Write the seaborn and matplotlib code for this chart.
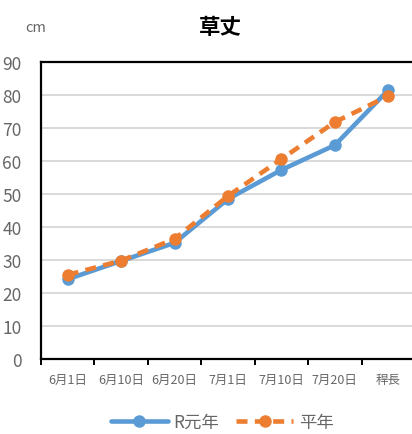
import matplotlib
matplotlib.use("Agg")
import matplotlib.pyplot as plt
from matplotlib.ticker import FixedLocator
import seaborn as sns
import pandas as pd

# Growth stages and plant height (cm)
stages = ["6月1日", "6月10日", "6月20日", "7月1日", "7月10日", "7月20日", "稈長"]
height_r1 = [24.2, 29.7, 35.2, 48.5, 57.3, 64.8, 81.5]
height_normal = [25.5, 29.8, 36.4, 49.4, 60.6, 71.8, 79.7]
series_names = ["R元年", "平年"]
y_ticks = [0, 10, 20, 30, 40, 50, 60, 70, 80, 90]

sns.set_theme(style="white")
plt.rcParams["font.family"] = ["Noto Sans CJK JP", "DejaVu Sans"]

df = pd.DataFrame({
    "stage": stages * 2,
    "height": height_r1 + height_normal,
    "series": [series_names[0]] * len(stages) + [series_names[1]] * len(stages),
})

fig = plt.figure(figsize=(4.12, 4.35), dpi=100)
W, H = 412, 435
left, right, top, bottom = 41, 415, 63, 360
ax = fig.add_axes([left / W, 1 - bottom / H, (right - left) / W, (bottom - top) / H])

blue = "#5B9BD5"
orange = "#ED7D31"

sns.lineplot(data=df[df["series"] == series_names[0]], x="stage", y="height",
             ax=ax, color=blue, lw=3.3, marker="o", markersize=9,
             markeredgewidth=0, label=series_names[0], zorder=3)
sns.lineplot(data=df[df["series"] == series_names[1]], x="stage", y="height",
             ax=ax, color=orange, lw=3.3, marker="o", markersize=9,
             markeredgewidth=0, dashes=(2.4, 1.6), label=series_names[1], zorder=4)

ax.set_xlim(-0.5, len(stages) - 0.5)
ax.set_ylim(0, 90)
ax.set_yticks(y_ticks)
ax.yaxis.grid(True, color="#D9D9D9", lw=1.4)
ax.set_axisbelow(True)

ax.set_xlabel("")
ax.set_ylabel("")

for side in ["left", "top", "bottom"]:
    ax.spines[side].set_color("black")
    ax.spines[side].set_linewidth(1.6)
ax.spines["right"].set_visible(False)

ax.tick_params(axis="y", length=0, pad=14, labelsize=12.5, labelcolor="#666666")
ax.tick_params(axis="x", which="major", length=0, pad=10, labelsize=9, labelcolor="#666666")
ax.xaxis.set_minor_locator(FixedLocator([i - 0.5 for i in range(len(stages) + 1)]))
ax.tick_params(axis="x", which="minor", bottom=True, length=4, width=1.4, color="black", direction="out")

fig.text(220 / W, 1 - 28 / H, "草丈", ha="center", va="center", fontsize=15.5,
         fontweight="bold", color="black")
fig.text(36 / W, 1 - 28 / H, "cm", ha="center", va="center", fontsize=10.5, color="#666666")

handles, labels = ax.get_legend_handles_labels()
ax.legend(handles, labels, loc="center", bbox_to_anchor=(222 / W, 1 - 423 / H),
          bbox_transform=fig.transFigure, ncol=2, frameon=False, fontsize=12.5,
          labelcolor="#666666", handlelength=3.3, handletextpad=0.3, columnspacing=1.0)

fig.savefig("out.png", dpi=100)
